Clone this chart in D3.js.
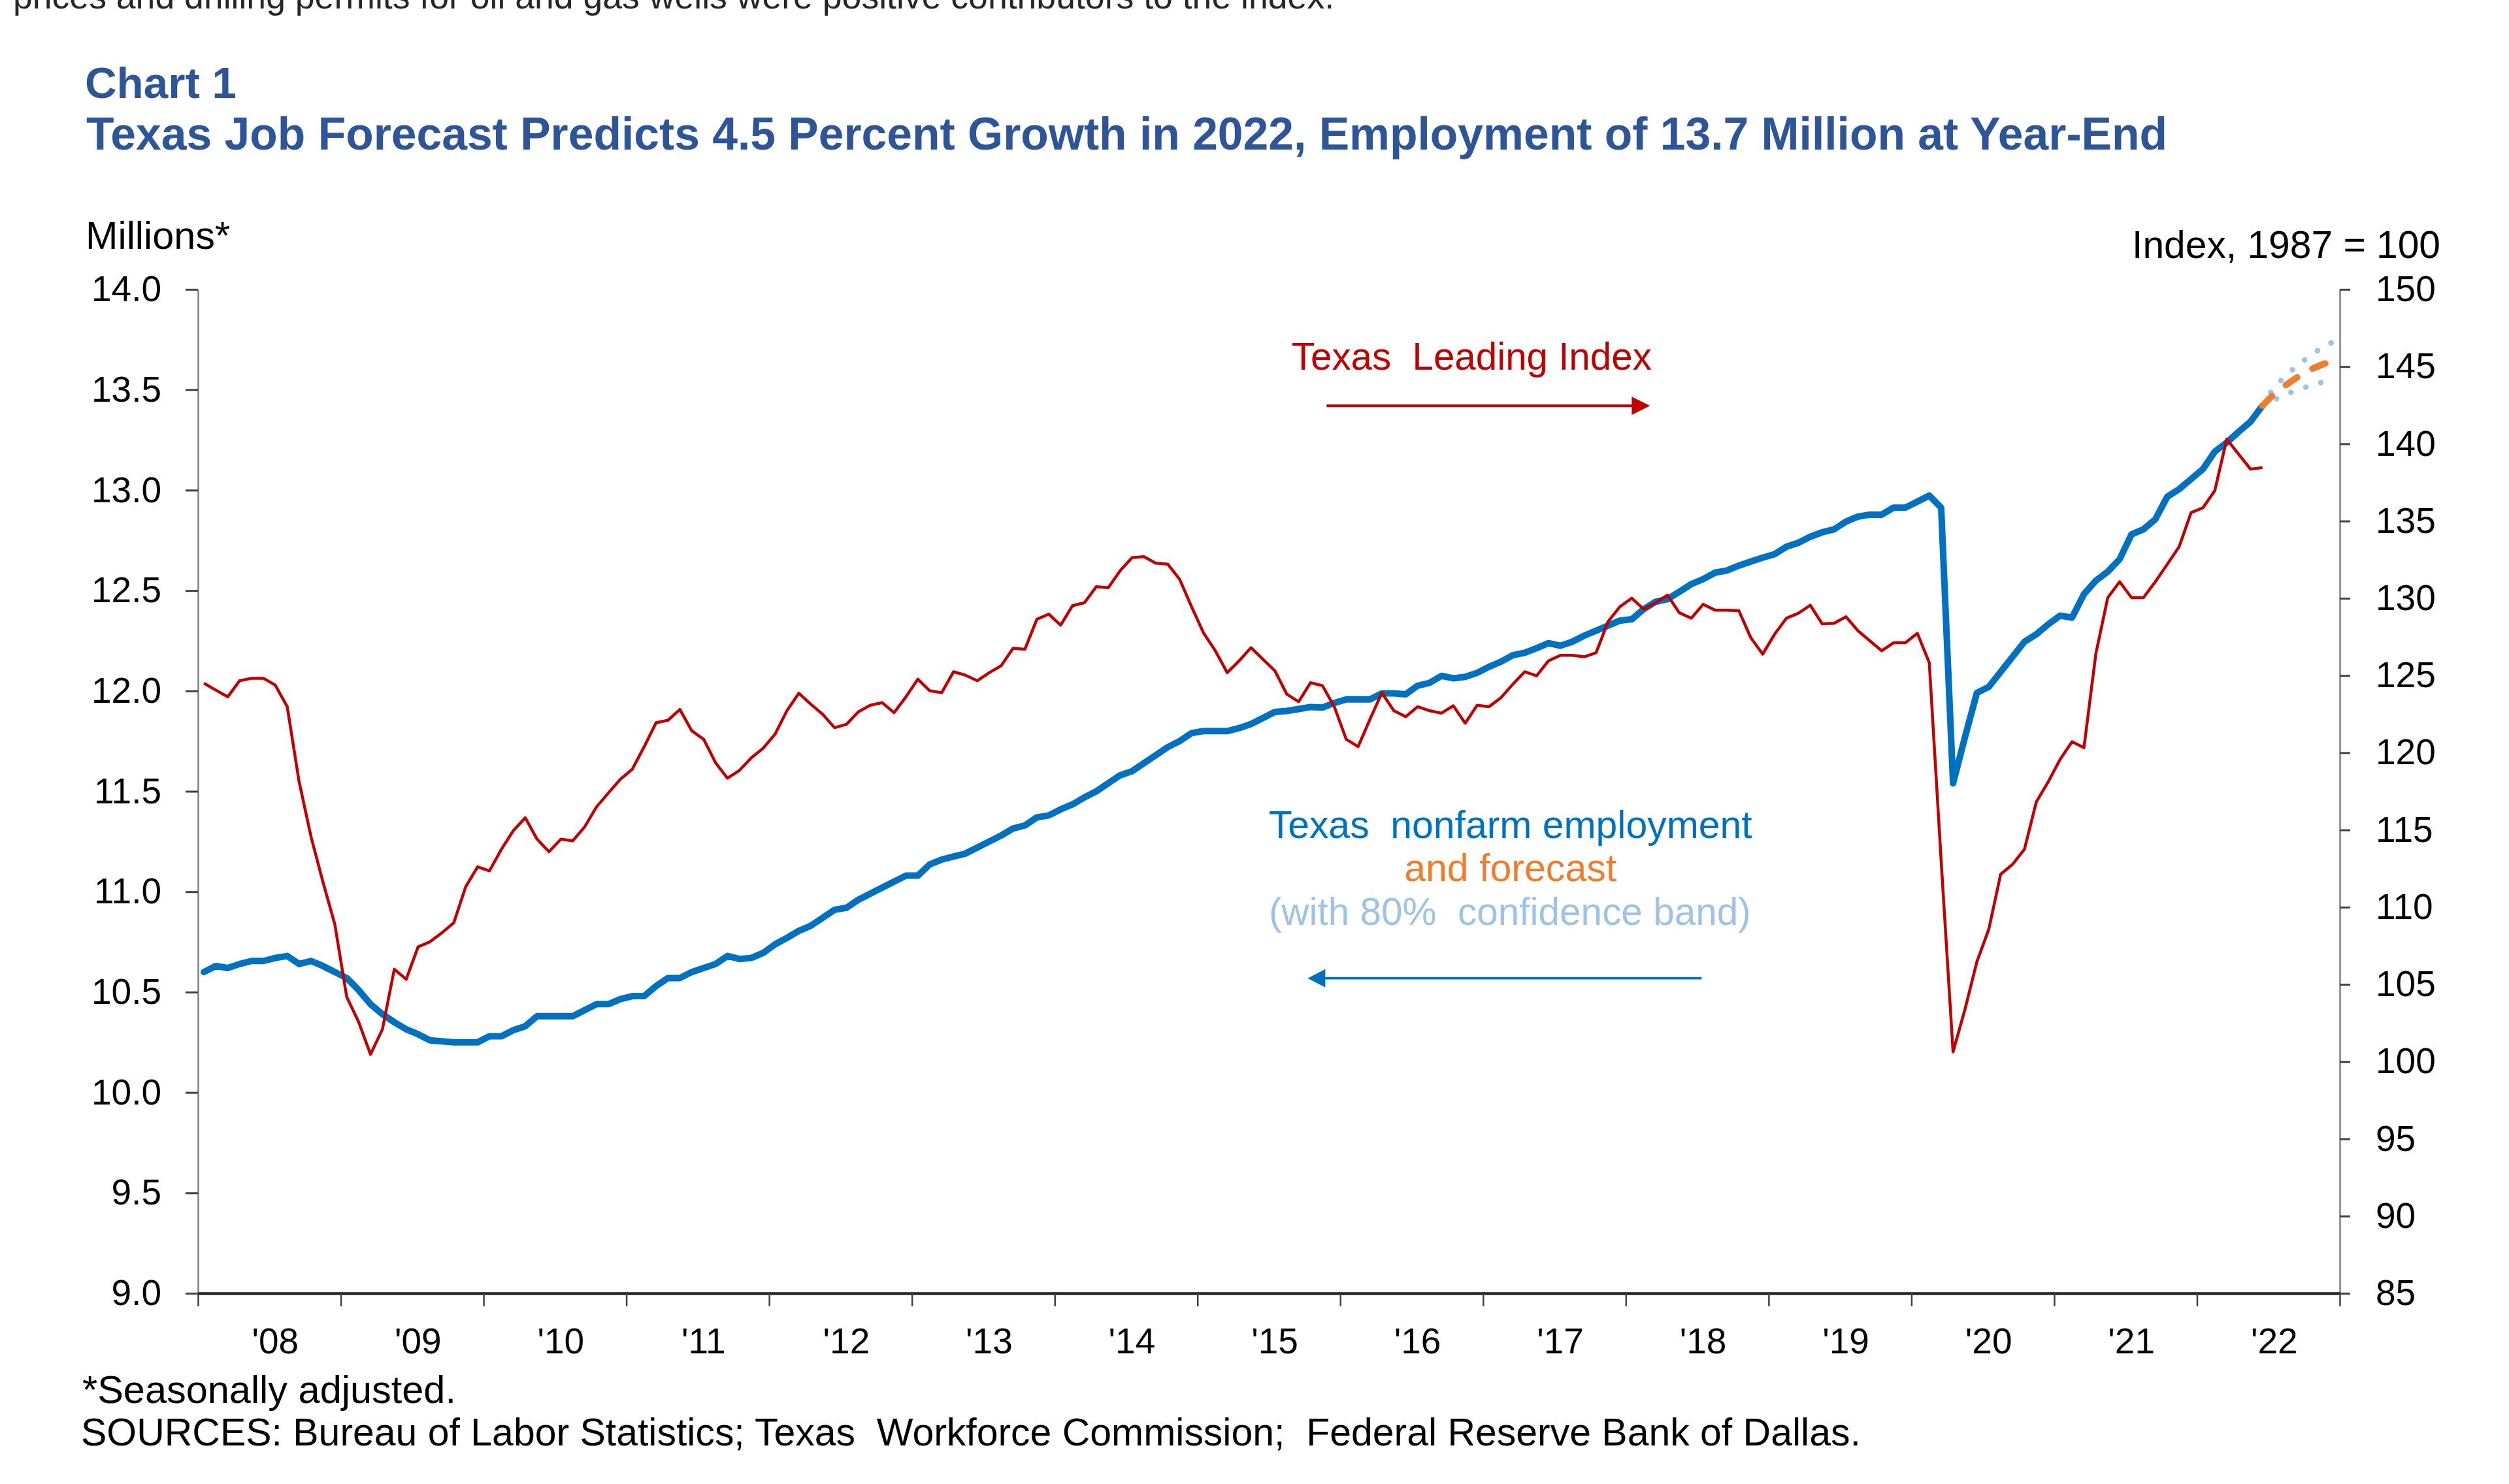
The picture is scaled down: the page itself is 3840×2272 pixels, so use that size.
<!DOCTYPE html>
<html>
<head>
<meta charset="utf-8">
<script src="https://cdn.jsdelivr.net/npm/d3@7/dist/d3.min.js"></script>
<style>
  html, body { margin: 0; padding: 0; background: #ffffff; }
  svg { display: block; }
  text { font-family: "Liberation Sans", Arial, sans-serif; }
</style>
</head>
<body>
<script>
// ---------------- DATA ----------------
const startYear = 2008;
const yearLabels = ["'08","'09","'10","'11","'12","'13","'14","'15","'16","'17","'18","'19","'20","'21","'22"];
const leftTicks = [9.0, 9.5, 10.0, 10.5, 11.0, 11.5, 12.0, 12.5, 13.0, 13.5, 14.0];
const rightTicks = [85, 90, 95, 100, 105, 110, 115, 120, 125, 130, 135, 140, 145, 150];

// Texas nonfarm employment, millions, monthly from Jan 2008
const employment = [
  10.60,10.63,10.62,10.64,10.655,10.655,10.67,10.68,10.64,10.655,10.63,10.60,
  10.57,10.51,10.44,10.39,10.35,10.315,10.29,10.26,10.255,10.25,10.25,10.25,
  10.28,10.28,10.31,10.33,10.38,10.38,10.38,10.38,10.41,10.44,10.44,10.465,
  10.48,10.48,10.53,10.57,10.57,10.60,10.62,10.64,10.68,10.665,10.67,10.695,
  10.738,10.77,10.805,10.83,10.87,10.91,10.92,10.96,10.99,11.02,11.05,11.08,
  11.08,11.136,11.16,11.175,11.19,11.22,11.25,11.28,11.315,11.33,11.37,11.38,
  11.41,11.435,11.47,11.50,11.54,11.58,11.60,11.64,11.68,11.72,11.75,11.79,
  11.80,11.80,11.80,11.815,11.835,11.865,11.895,11.90,11.91,11.92,11.917,11.94,
  11.958,11.958,11.958,11.988,11.988,11.983,12.026,12.04,12.075,12.063,12.07,12.09,
  12.12,12.145,12.178,12.19,12.213,12.238,12.225,12.245,12.275,12.30,12.325,12.35,
  12.357,12.407,12.444,12.457,12.494,12.532,12.557,12.589,12.60,12.624,12.644,12.664,
  12.681,12.718,12.738,12.768,12.79,12.805,12.843,12.868,12.878,12.878,12.913,12.913,
  12.943,12.973,12.913,11.54,11.77,11.99,12.02,12.095,12.17,12.245,12.282,12.332,
  12.375,12.365,12.482,12.549,12.594,12.656,12.78,12.805,12.855,12.967,13.005,13.055,
  13.105,13.192,13.237,13.291,13.341,13.42
];

// Texas Leading Index, 1987 = 100, monthly from Jan 2008
const leadingIndex = [
  124.5,124.05,123.62,124.66,124.82,124.82,124.37,122.98,118.12,114.56,111.64,108.89,
  104.19,102.57,100.47,102.09,105.98,105.33,107.43,107.76,108.34,108.99,111.32,112.61,
  112.35,113.75,114.95,115.79,114.4,113.59,114.4,114.3,115.2,116.5,117.4,118.28,
  118.93,120.39,121.94,122.1,122.8,121.42,120.87,119.35,118.35,118.85,119.67,120.29,
  121.2,122.72,123.85,123.14,122.49,121.62,121.84,122.65,123.07,123.24,122.59,123.62,
  124.76,124.01,123.88,125.24,125.02,124.66,125.18,125.63,126.76,126.7,128.64,128.97,
  128.26,129.52,129.71,130.75,130.68,131.78,132.63,132.69,132.27,132.21,131.23,129.45,
  127.77,126.6,125.18,125.95,126.8,126.05,125.31,123.8,123.3,124.53,124.34,122.98,
  120.87,120.39,122.17,123.88,122.72,122.33,122.98,122.72,122.56,123.04,121.91,123.07,
  122.98,123.56,124.43,125.24,124.98,125.95,126.31,126.31,126.21,126.47,128.48,129.45,
  130.0,129.29,129.71,130.2,129.06,128.71,129.61,129.23,129.23,129.19,127.45,126.38,
  127.67,128.71,129.03,129.55,128.35,128.38,128.8,127.9,127.25,126.6,127.12,127.12,
  127.73,125.83,113.0,100.63,103.38,106.46,108.56,112.13,112.77,113.75,116.82,118.12,
  119.57,120.71,120.32,126.4,130.04,131.07,130.04,130.04,131.07,132.2,133.34,135.54,
  135.86,136.97,140.3,139.33,138.36,138.46
];

// Forecast (millions) from Jun 2022 through Dec 2022, with 80% band
const forecastStart = 173;
const forecast  = [13.42, 13.48, 13.525, 13.565, 13.60, 13.625, 13.645];
const bandUpper = [13.42, 13.515, 13.57, 13.625, 13.668, 13.71, 13.74];
const bandLower = [13.42, 13.45, 13.478, 13.50, 13.52, 13.537, 13.55];

// ---------------- CHART ----------------
const W = 3840, H = 2272;
const svg = d3.select("body").append("svg").attr("width", W).attr("height", H);
svg.append("rect").attr("width", W).attr("height", H).attr("fill", "#ffffff");

const totalMonths = yearLabels.length * 12;
const x = d3.scaleLinear().domain([0, totalMonths]).range([303, 3581]);
const yL = d3.scaleLinear().domain([9, 14]).range([1980, 443]);
const yR = d3.scaleLinear().domain([85, 150]).range([1980, 443]);

function fitWidth(sel, w) {
  const cur = sel.node().getComputedTextLength();
  const fs = parseFloat(sel.attr("font-size"));
  sel.attr("font-size", (fs * w / cur).toFixed(2));
  return sel;
}

// Paragraph text at the top (cut off by the page edge, as in the source)
fitWidth(svg.append("text").attr("x", 20).attr("y", 13)
  .attr("font-family", "'Open Sans', sans-serif").attr("font-size", 42).attr("fill", "#262626")
  .text("prices and drilling permits for oil and gas wells were positive contributors to the index."), 2022);

// Titles
const titleColor = "#2E5597";
fitWidth(svg.append("text").attr("x", 130).attr("y", 150).attr("font-size", 68)
  .attr("font-weight", "bold").attr("fill", titleColor).text("Chart 1"), 232);
fitWidth(svg.append("text").attr("x", 132).attr("y", 229).attr("font-size", 68)
  .attr("font-weight", "bold").attr("fill", titleColor)
  .text("Texas Job Forecast Predicts 4.5 Percent Growth in 2022, Employment of 13.7 Million at Year-End"), 3186);

// Axis titles
fitWidth(svg.append("text").attr("x", 131).attr("y", 381).attr("font-size", 56).attr("fill", "#000")
  .text("Millions*"), 221);
fitWidth(svg.append("text").attr("x", 3735).attr("y", 395).attr("font-size", 56).attr("text-anchor", "end")
  .attr("fill", "#000").text("Index, 1987 = 100"), 472);

// Axes
const axisFont = 55;
const gL = svg.append("g").attr("transform", `translate(${x(0)},0)`)
  .call(d3.axisLeft(yL).tickValues(leftTicks).tickFormat(d3.format(".1f"))
    .tickSizeInner(19).tickSizeOuter(0).tickPadding(37));
const gR = svg.append("g").attr("transform", `translate(${x(totalMonths)},0)`)
  .call(d3.axisRight(yR).tickValues(rightTicks).tickFormat(d3.format("d"))
    .tickSizeInner(16).tickSizeOuter(0).tickPadding(39));
[gL, gR].forEach(g => {
  g.select(".domain").attr("stroke", "#7f7f7f").attr("stroke-width", 2.5);
  g.selectAll(".tick line").attr("stroke", "#404040").attr("stroke-width", 3);
  g.selectAll(".tick text").attr("font-size", axisFont).attr("fill", "#000")
    .attr("font-family", "'Liberation Sans', Arial, sans-serif");
});

const gB = svg.append("g").attr("transform", `translate(0,${yL(9)})`)
  .call(d3.axisBottom(x).tickValues(d3.range(0, totalMonths + 1, 12)).tickFormat("")
    .tickSizeInner(20).tickSizeOuter(0));
gB.selectAll(".tick line").attr("stroke", "#404040").attr("stroke-width", 2.5);
gB.select(".domain").attr("stroke", "#262626").attr("stroke-width", 4.5);

svg.append("g").selectAll("text").data(yearLabels).join("text")
  .attr("x", (d, i) => x(i * 12 + 6) + 9)
  .attr("y", 2072)
  .attr("text-anchor", "middle").attr("font-size", axisFont).attr("fill", "#000")
  .text(d => d);

// Series
const lineL = (offset) => d3.line().x((d, i) => x(offset + i + 0.5)).y(d => yL(d));
const lineR = d3.line().x((d, i) => x(i + 0.5)).y(d => yR(d));

const bandStyle = p => p.attr("fill", "none").attr("stroke", "#9DC3E6").attr("stroke-width", 8.5)
  .attr("stroke-linecap", "round").attr("stroke-dasharray", "0.1 24");
svg.append("path").datum(bandUpper).attr("d", lineL(forecastStart)).call(bandStyle);
svg.append("path").datum(bandLower).attr("d", lineL(forecastStart)).call(bandStyle);

svg.append("path").datum(employment).attr("d", lineL(0))
  .attr("fill", "none").attr("stroke", "#0070C0").attr("stroke-width", 10)
  .attr("stroke-linejoin", "round").attr("stroke-linecap", "round");

svg.append("path").datum(forecast).attr("d", lineL(forecastStart))
  .attr("fill", "none").attr("stroke", "#ED7D31").attr("stroke-width", 10)
  .attr("stroke-linecap", "round").attr("stroke-dasharray", "21 27");

svg.append("path").datum(leadingIndex).attr("d", lineR)
  .attr("fill", "none").attr("stroke", "#C00000").attr("stroke-width", 4.5)
  .attr("stroke-linejoin", "round");

// Annotations (positions in data space: month index, millions)
function arrow(x1, x2, yv, color, width, headLen, headHalf) {
  const px1 = x(x1), px2 = x(x2), py = yL(yv);
  const dir = Math.sign(px2 - px1);
  svg.append("line").attr("x1", px1).attr("x2", px2 - dir * headLen * 0.8)
    .attr("y1", py).attr("y2", py).attr("stroke", color).attr("stroke-width", width);
  svg.append("path")
    .attr("d", `M${px2},${py} L${px2 - dir * headLen},${py - headHalf} L${px2 - dir * headLen},${py + headHalf} Z`)
    .attr("fill", color);
}

fitWidth(svg.append("text").attr("x", x(107.04)).attr("y", yL(13.60)).attr("text-anchor", "middle")
  .attr("font-size", 57).attr("fill", "#C00000").attr("style", "white-space: pre")
  .text("Texas  Leading Index"), 551);
arrow(94.85, 122.03, 13.42, "#C00000", 4, 28, 14);

fitWidth(svg.append("text").attr("x", x(110.3)).attr("y", yL(11.269)).attr("text-anchor", "middle")
  .attr("font-size", 58).attr("fill", "#0070C0").attr("style", "white-space: pre")
  .text("Texas  nonfarm employment"), 740);
fitWidth(svg.append("text").attr("x", x(110.3)).attr("y", yL(11.054)).attr("text-anchor", "middle")
  .attr("font-size", 58).attr("fill", "#ED7D31").text("and forecast"), 325);
fitWidth(svg.append("text").attr("x", x(110.25)).attr("y", yL(10.835)).attr("text-anchor", "middle")
  .attr("font-size", 58).attr("fill", "#9DC3E6").attr("style", "white-space: pre")
  .text("(with 80%  confidence band)"), 738);
arrow(126.37, 93.26, 10.569, "#0070C0", 3.5, 27, 14);

// Footnotes
fitWidth(svg.append("text").attr("x", 126).attr("y", 2148).attr("font-size", 56).attr("fill", "#000")
  .text("*Seasonally adjusted."), 572);
fitWidth(svg.append("text").attr("x", 124).attr("y", 2213).attr("font-size", 56).attr("fill", "#000")
  .attr("style", "white-space: pre")
  .text("SOURCES: Bureau of Labor Statistics; Texas  Workforce Commission;  Federal Reserve Bank of Dallas."), 2724);
</script>
</body>
</html>
